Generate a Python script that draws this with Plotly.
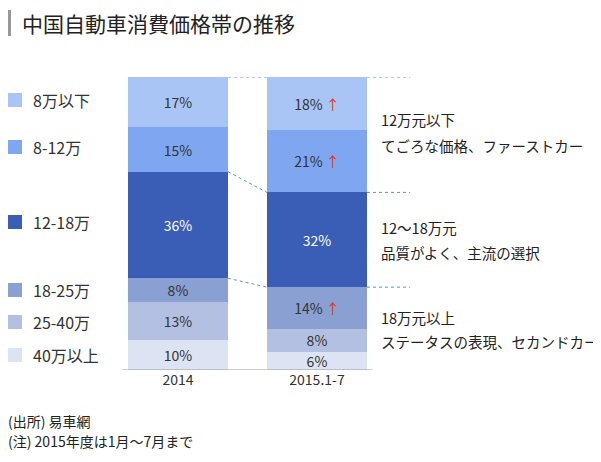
import plotly.graph_objects as go

categories = ["2014", "2015.1-7"]
segments = ["40万以上", "25-40万", "18-25万", "12-18万", "8-12万", "8万以下"]
values_2014 = [10, 13, 8, 36, 15, 17]
values_2015 = [6, 8, 14, 32, 21, 18]
rising_2015 = [False, False, True, False, True, True]
colors = ["#dce3f2", "#b3c0e2", "#8a9fd2", "#3a5db5", "#7fa6f0", "#a9c5f6"]
text_colors = ["#333", "#333", "#333", "white", "#333", "#333"]

FONT = "Noto Sans CJK JP"
OFF = 8                      # page body margin
W, H = 601 - OFF, 462 - OFF
TOP, BOT = 77, 370           # plot area in picture pixels


def fx(X):
    return (X - OFF) / W


def fy(Y):
    return 1 - (Y - TOP) / (BOT - TOP)


fig = go.Figure()
xs = [0, 1]
for i, seg in enumerate(segments):
    labels = []
    for j, v in enumerate([values_2014[i], values_2015[i]]):
        t = f"{v}%"
        if j == 1 and rising_2015[i]:
            t += " <span style='color:#e0321e'>↑</span>"
        labels.append(t)
    fig.add_trace(go.Bar(
        x=xs, y=[values_2014[i], values_2015[i]], name=seg,
        marker=dict(color=colors[i], line=dict(width=0)),
        width=0.72, text=labels, textposition="inside", insidetextanchor="middle",
        constraintext="none",
        textfont=dict(color=text_colors[i], size=14, family=FONT),
        showlegend=False, hoverinfo="skip"))


def cum(vals, k):
    return sum(vals[:k])


half = 0.36
dot = dict(color="#5b8fd6", width=1, dash="dot")
pairs = [(cum(values_2014, 6), cum(values_2015, 6)),
         (cum(values_2014, 4), cum(values_2015, 4)),
         (cum(values_2014, 3), cum(values_2015, 3))]
for a, b in pairs:
    fig.add_shape(type="line", x0=half, x1=1 - half, y0=a, y1=b, line=dot)
    fig.add_shape(type="line", x0=1 + half, x1=1.67, y0=b, y1=b, line=dot)

legend_y = [355, 322, 290, 222, 147, 100]
for i, seg in enumerate(segments):
    yy = legend_y[i]
    fig.add_shape(type="rect", xref="paper", yref="paper",
                  x0=fx(8), x1=fx(22), y0=fy(yy + 7), y1=fy(yy - 7),
                  fillcolor=colors[i], line=dict(width=0))
    fig.add_annotation(xref="paper", yref="paper", x=fx(31), y=fy(yy),
                       text=seg, showarrow=False, xanchor="left", yanchor="middle",
                       font=dict(size=16, color="#333", family=FONT))

notes = [(120, "12万元以下"), (145, "てごろな価格、ファーストカー"),
         (227, "12～18万元"), (252, "品質がよく、主流の選択"),
         (317, "18万元以上"), (341, "ステータスの表現、セカンドカー")]
for py, t in notes:
    fig.add_annotation(xref="paper", yref="paper", x=fx(379), y=fy(py),
                       text=t, showarrow=False, xanchor="left", yanchor="middle",
                       font=dict(size=14.5, color="#222", family=FONT))

fig.add_shape(type="rect", xref="paper", yref="paper", x0=fx(4), x1=fx(11),
              y0=fy(36), y1=fy(10), fillcolor="#999", line=dict(width=0))
fig.add_annotation(xref="paper", yref="paper", x=fx(20), y=fy(23),
                   text="中国自動車消費価格帯の推移", showarrow=False,
                   xanchor="left", yanchor="middle",
                   font=dict(size=21, color="#222", family=FONT))
for py, t in [(421, "(出所) 易車網"), (441, "(注) 2015年度は1月～7月まで")]:
    fig.add_annotation(xref="paper", yref="paper", x=fx(6), y=fy(py),
                       text=t, showarrow=False, xanchor="left", yanchor="middle",
                       font=dict(size=14, color="#222", family=FONT))

fig.update_layout(
    barmode="stack", width=W, height=H,
    margin=dict(l=0, r=0, t=TOP - OFF, b=H - (BOT - OFF)),
    plot_bgcolor="white", paper_bgcolor="white",
    xaxis=dict(range=[(OFF - 178) / 139, (601 - 178) / 139], tickvals=xs,
               ticktext=categories, showgrid=False, zeroline=False,
               showline=False, ticks="",
               tickfont=dict(size=14, color="#333", family=FONT)),
    yaxis=dict(range=[0, 99], visible=False),
)
fig.add_shape(type="line", x0=-0.4, x1=1.4, y0=0, y1=0, line=dict(color="#999", width=1))
fig.write_html("out.html")
